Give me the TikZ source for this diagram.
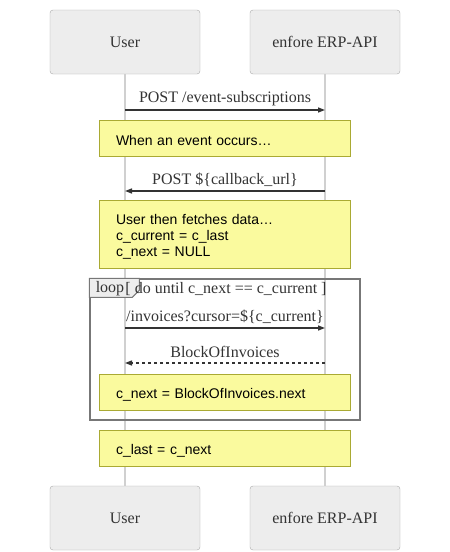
\documentclass[tikz,border=0pt]{standalone}
\usepackage{fontspec}
\setmainfont{Liberation Serif}
\newfontfamily\notefont{Liberation Sans}
\usetikzlibrary{arrows.meta,positioning}
\definecolor{actorfill}{HTML}{EDEDED}
\definecolor{actorline}{HTML}{A8A8A8}
\definecolor{lifegray}{HTML}{D0D0D0}
\definecolor{msgline}{HTML}{333333}
\definecolor{notefill}{HTML}{FAFA9E}
\definecolor{noteline}{HTML}{AAAA33}
\definecolor{loopline}{HTML}{777777}
\tikzset{
    actor/.style={draw=actorline, fill=actorfill, rounded corners=3pt, minimum width=150pt, minimum height=64pt, font=\fontsize{16}{19}\selectfont, text=msgline},
    lifeline/.style={draw=lifegray, line width=1.2pt},
    msg/.style={draw=msgline, line width=1.3pt, -{Triangle[length=7pt,width=5pt]}},
    reply/.style={msg, dash pattern=on 3pt off 3pt},
    msglabel/.style={midway, yshift=11pt, text=msgline, font=\fontsize{16}{19}\selectfont},
    note/.style={draw=noteline, fill=notefill, line width=0.8pt, minimum width=251pt, text width=217pt, inner xsep=17pt, align=left, text height=15pt, font=\notefont\fontsize{14}{16}\selectfont},
    loopbox/.style={draw=loopline, line width=1.3pt, minimum width=270pt, minimum height=141pt, inner sep=0pt},
    looptab/.style={draw=loopline, fill=actorfill, line width=1pt}
}

\begin{document}
\begin{tikzpicture}[x=1pt, y=-1pt]
    \useasboundingbox (0,0) rectangle (450,552);
    % Nodes
    \node[actor] (usertop) at (125,42) {User};
    \node[actor] (apitop) at (325,42) {enfore ERP-API};
    \node[actor] (userbot) at (125,518) {User};
    \node[actor] (apibot) at (325,518) {enfore ERP-API};

    % lifelines
    \draw[lifeline] (usertop) -- (userbot);
    \draw[lifeline] (apitop) -- (apibot);

    % loop frame
    \node[loopbox] (loop) at (225,349.5) {};
    \draw[looptab] (loop.north west) -- ++(50,0) -- ++(0,12) -- ++(-7,7) -- ++(-43,0) -- cycle;
    \node[font=\fontsize{16}{19}\selectfont, text=msgline] (looplabel) at (110,289) {loop};
    \node[font=\fontsize{16}{19}\selectfont, text=msgline] (loopcond) at (226,289) {[ do until c\_next == c\_current ]};

    % notes
    \node[note, minimum height=36pt] (note1) at (224.5,138) {When an event occurs\ldots};
    \node[note, minimum height=68pt] (note2) at (224.5,234.5) {User then fetches data\ldots\\c\_current = c\_last\\c\_next = NULL};
    \node[note, minimum height=36pt] (note3) at (224.5,392) {c\_next = BlockOfInvoices.next};
    \node[note, minimum height=36pt] (note4) at (224.5,448) {c\_last = c\_next};

    % message ends
    \coordinate (u1) at (125,110); \coordinate (a1) at (325,110);
    \coordinate (u2) at (125,191); \coordinate (a2) at (325,191);
    \coordinate (u3) at (125,328); \coordinate (a3) at (325,328);
    \coordinate (u4) at (125,363); \coordinate (a4) at (325,363);

    % messages
    \draw[msg] (u1) -- node[msglabel] {POST /event-subscriptions} (a1);
    \draw[msg] (a2) -- node[msglabel] {POST \$\{callback\_url\}} (u2);
    \draw[msg] (u3) -- node[msglabel] {/invoices?cursor=\$\{c\_current\}} (a3);
    \draw[reply] (a4) -- node[msglabel] {BlockOfInvoices} (u4);
\end{tikzpicture}
\end{document}
